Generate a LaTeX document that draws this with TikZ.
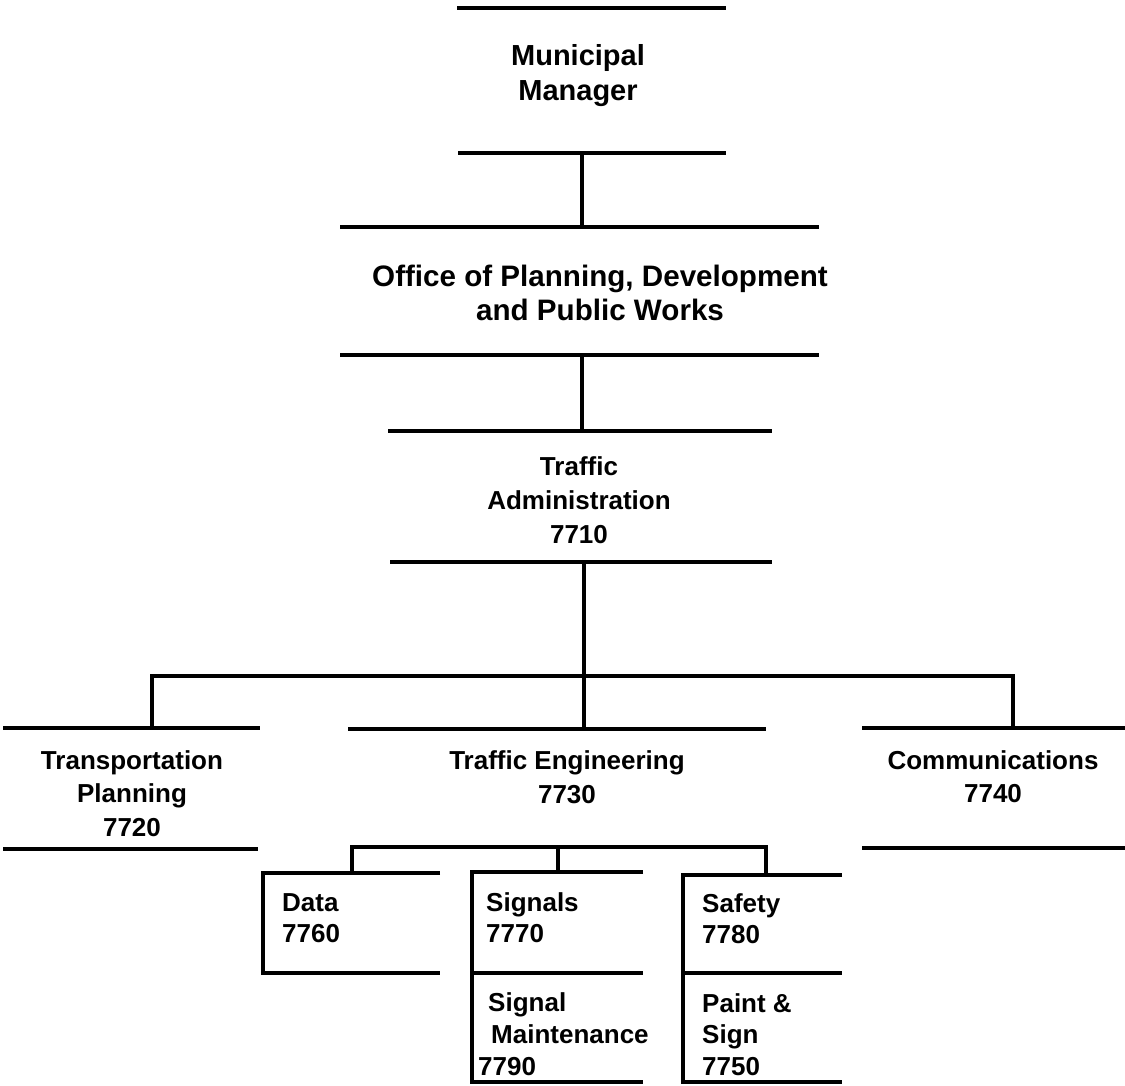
\documentclass[tikz,border=0pt]{standalone}
\usepackage{fontspec}
\setmainfont{Liberation Sans}
\begin{document}
\begin{tikzpicture}[x=1pt,y=-1pt,
  bar/.style={line width=4.5pt},
  conn/.style={line width=4pt},
  unitc/.style={font=\bfseries\fontsize{26}{34}\selectfont, inner sep=0pt, anchor=north, align=center},
  unitbig/.style={font=\bfseries\fontsize{29}{35}\selectfont, inner sep=0pt, anchor=north, align=center},
  unitl/.style={font=\bfseries\fontsize{26}{31}\selectfont, inner sep=0pt, anchor=north west, align=left}]
\useasboundingbox (0,0) rectangle (1125,1086);

% bars
\draw[bar] (457,8) -- (726,8);
\draw[bar] (458,153) -- (726,153);
\draw[bar] (340,227) -- (819,227);
\draw[bar] (340,355) -- (819,355);
\draw[bar] (388,431) -- (772,431);
\draw[bar] (390,562) -- (772,562);
\draw[bar] (3,728) -- (260,728);
\draw[bar] (3,849) -- (258,849);
\draw[bar] (348,729) -- (766,729);
\draw[bar] (862,728) -- (1125,728);
\draw[bar] (862,848) -- (1125,848);
\draw[bar] (440,873) -- (263,873) -- (263,973) -- (440,973);
\draw[bar] (643,872) -- (472,872) -- (472,1082) -- (643,1082);
\draw[bar] (472,973) -- (643,973);
\draw[bar] (842,875) -- (683,875) -- (683,1082) -- (842,1082);
\draw[bar] (683,973) -- (842,973);

% texts
\node[unitbig] (mm) at (578,44) {Municipal\\Manager};
\node[unitbig, font=\bfseries\fontsize{29.6}{34}\selectfont] (op) at (600,265) {Office of Planning, Development\\and Public Works};
\node[unitc] (ta) at (579,456) {Traffic\\Administration\\7710};
\node[unitc, font=\bfseries\fontsize{26}{33.5}\selectfont] (tp) at (132,750) {Transportation\\Planning\\7720};
\node[unitc] (te) at (567,750) {Traffic Engineering\\7730};
\node[unitc, font=\bfseries\fontsize{26}{33}\selectfont] (com) at (993,750) {Communications\\7740};
\node[unitl] (data) at (282,893) {Data\\7760};
\node[unitl] (sig) at (486,892) {Signals\\7770};
\node[unitl, font=\bfseries\fontsize{26}{32}\selectfont] (sm) at (478,992) {\hspace{10pt}Signal\\\hspace{13pt}Maintenance\\7790};
\node[unitl] (saf) at (702,893) {Safety\\7780};
\node[unitl, font=\bfseries\fontsize{26}{31.5}\selectfont] (ps) at (702,993) {Paint \&\\Sign\\7750};

% connector end points
\coordinate (mmB) at (582,153);
\coordinate (opT) at (582,227);
\coordinate (opB) at (582,355);
\coordinate (taT) at (582,431);
\coordinate (taB) at (584,562);
\coordinate (teT) at (584,729);
\coordinate (bus) at (584,676);
\coordinate (tpT) at (152,728);
\coordinate (comT) at (1013,728);
\coordinate (sub) at (558,847);
\coordinate (dataT) at (352,873);
\coordinate (sigT) at (558,872);
\coordinate (safT) at (766,875);

% connectors
\draw[conn] (mmB) -- (opT);
\draw[conn] (opB) -- (taT);
\draw[conn] (taB) -- (teT);
\draw[conn] (tpT) |- (bus) -| (comT);
\draw[conn] (dataT) |- (sub) -| (safT);
\draw[conn] (sub) -- (sigT);
\end{tikzpicture}
\end{document}
